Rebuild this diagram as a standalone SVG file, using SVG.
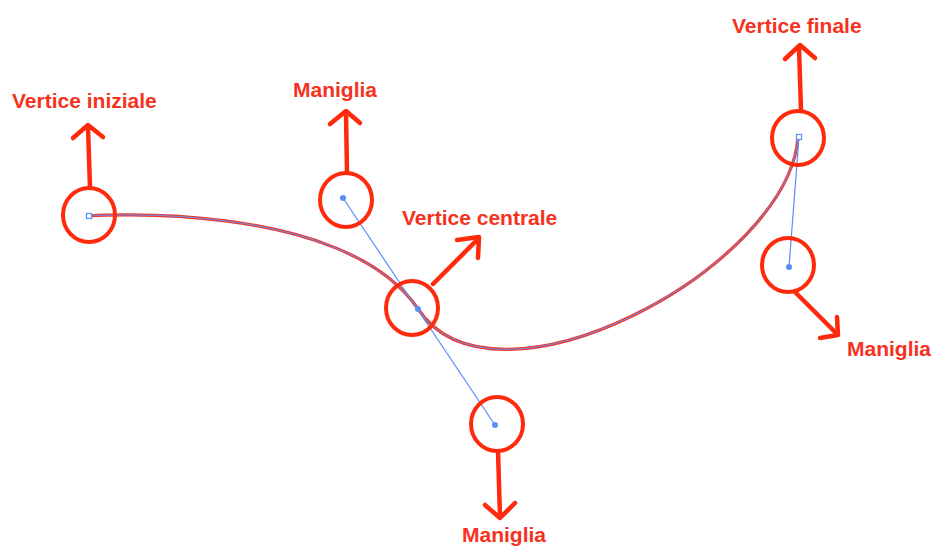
<svg xmlns="http://www.w3.org/2000/svg" width="938" height="547" viewBox="0 0 938 547">
<style>
.ring{fill:none;stroke:#ff2a0c;stroke-width:4}
.arr{fill:none;stroke:#ff2a0c;stroke-width:4.5;stroke-linecap:round;stroke-linejoin:round}
.lbl{font-family:"Liberation Sans",Arial,sans-serif;font-weight:bold;font-size:21px;fill:#f5321e}
.hline{stroke:#5b8ef5;stroke-width:1.2;fill:none}
.dot{fill:#5b8ef5}
.anchor{fill:#fff;stroke:#5b8ef5;stroke-width:1.2}
</style>
<rect width="938" height="547" fill="#fff"/>
<g id="connectors">
  <path d="M89,216 C89,216 343,198 418,309 C495,425 789,267 798,137" fill="none" stroke="#f0392c" stroke-width="3.2"/>
  <path d="M89,216 C89,216 343,198 418,309 C495,425 789,267 798,137" fill="none" stroke="#6a8ef0" stroke-width="1"/>
  <line class="hline" x1="343" y1="198" x2="495" y2="425"/>
  <line class="hline" x1="799" y1="137" x2="789" y2="267"/>
</g>
<g id="vertice-iniziale">
  <ellipse class="ring" cx="89" cy="215" rx="26" ry="27"/>
  <path class="arr" d="M90,188 L88,127 M73,138 L88,125 L103,137"/>
  <rect class="anchor" x="86.5" y="213.5" width="5" height="5"/>
  <text class="lbl" x="12" y="108">Vertice iniziale</text>
</g>
<g id="maniglia-1">
  <ellipse class="ring" cx="346" cy="200" rx="26" ry="27"/>
  <path class="arr" d="M347,173 L346,113 M330,124 L346,111 L360,123"/>
  <circle class="dot" cx="343" cy="198" r="3"/>
  <text class="lbl" x="293" y="97">Maniglia</text>
</g>
<g id="vertice-centrale">
  <ellipse class="ring" cx="412" cy="308" rx="26" ry="27"/>
  <path class="arr" d="M433,284 L479,238 M457,240 L479,237 L478,258"/>
  <circle class="dot" cx="418" cy="309" r="3"/>
  <text class="lbl" x="402" y="225">Vertice centrale</text>
</g>
<g id="maniglia-2">
  <ellipse class="ring" cx="497" cy="424" rx="26" ry="27"/>
  <path class="arr" d="M498,451 L500,517 M485,505 L500,518 L515,503"/>
  <circle class="dot" cx="495" cy="425" r="3"/>
  <text class="lbl" x="462" y="542">Maniglia</text>
</g>
<g id="vertice-finale">
  <ellipse class="ring" cx="798" cy="138" rx="26" ry="27"/>
  <path class="arr" d="M801,111 L799,47 M785,59 L800,45 L815,58"/>
  <rect class="anchor" x="796.5" y="134.5" width="5" height="5"/>
  <text class="lbl" x="732" y="33">Vertice finale</text>
</g>
<g id="maniglia-3">
  <ellipse class="ring" cx="788" cy="265" rx="26" ry="27"/>
  <path class="arr" d="M795,292 L837,334 M837,317 L838,335 L820,338"/>
  <circle class="dot" cx="789" cy="267" r="3"/>
  <text class="lbl" x="847" y="356">Maniglia</text>
</g>
</svg>
